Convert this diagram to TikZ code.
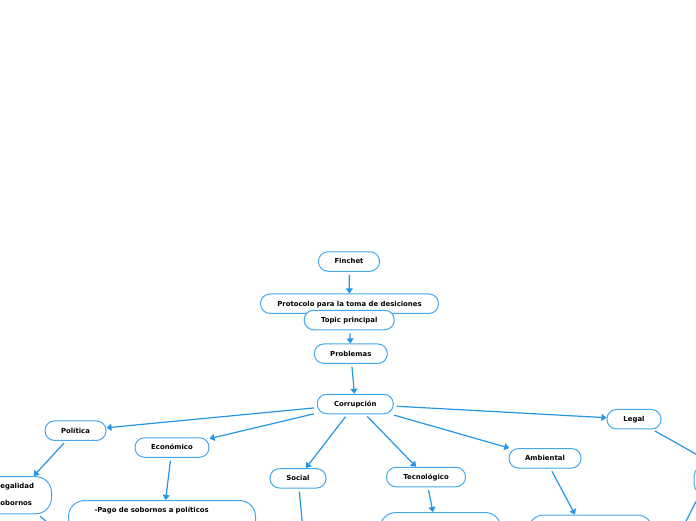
\documentclass[tikz,border=0pt]{standalone}
\usepackage{fontspec}
\setmainfont{DejaVu Sans}
\usetikzlibrary{arrows.meta}
\definecolor{edgeblue}{RGB}{36,150,228}
\definecolor{boxblue}{RGB}{70,168,236}
\tikzset{
  nodefont/.style={font=\fontsize{6.9}{8.3}\selectfont\bfseries},
  topicbox/.style={nodefont, draw=boxblue, line width=1pt, fill=white,
    rounded corners=9.5pt, text height=5pt, text depth=0.3pt,
    inner sep=0pt, minimum height=19.5pt},
  bigbox/.style={nodefont, draw=boxblue, line width=1pt, fill=white,
    rounded corners=16pt, align=left},
  conn/.style={draw=edgeblue, line width=1.2pt,
    -{Triangle[length=5pt,width=7pt]}, shorten <=3pt},
}
\begin{document}
\begin{tikzpicture}[x=1pt,y=-1pt]
\useasboundingbox (0,0) rectangle (696,520);
% main nodes
\node[topicbox, minimum width=61pt] (fin) at (349,261.5) {Finchet};
\node[topicbox, minimum width=178pt] (prot) at (349.5,303.7) {Protocolo para la toma de desiciones};
\node[topicbox, minimum width=90pt] (topic) at (349.2,320) {Topic principal};
\node[topicbox, minimum width=73pt] (prob) at (350.8,353.7) {Problemas};
\node[topicbox, minimum width=76pt] (corr) at (355.3,404) {Corrupción};
\node[topicbox, minimum width=61pt] (pol) at (75.5,430.7) {Política};
\node[topicbox, minimum width=74pt] (eco) at (172,447.5) {Económico};
\node[topicbox, minimum width=56pt] (soc) at (298,478.3) {Social};
\node[topicbox, minimum width=79pt] (tec) at (426,477) {Tecnológico};
\node[topicbox, minimum width=72pt] (amb) at (545,458.3) {Ambiental};
\node[topicbox, minimum width=54pt] (leg) at (634,419.2) {Legal};
% larger boxes
\node[bigbox, anchor=north west, inner xsep=15pt, inner ysep=7.3pt,
  text width=41pt, text height=5pt, text depth=17.7pt] (ilg) at (-20,476)
  {Ilegalidad\\[8.4pt]Sobornos};
\node[bigbox, anchor=north west, inner xsep=26pt, inner ysep=7.3pt,
  text width=135pt, text height=5pt, text depth=39.4pt] (pago) at (68,500)
  {-Pago de sobornos a políticos};
\node[bigbox, minimum width=121pt, minimum height=76pt, inner sep=0pt] (tecc) at (440.5,550.5) {};
\node[bigbox, minimum width=125pt, minimum height=57pt, inner sep=0pt] (ambc) at (590.5,543.5) {};
\node[bigbox, minimum width=96pt, minimum height=36pt, inner sep=0pt] (legc) at (742,480) {};
% free ends
\coordinate (socc) at (306,560);
\coordinate (ilgc) at (64.5,537.5);
\coordinate (legcc) at (676,541);
% connectors
\draw[conn] (fin) -- (prot);
\draw[conn] (topic) -- (prob);
\draw[conn] (prob) -- (corr);
\draw[conn] (corr) -- (pol);
\draw[conn] (corr) -- (eco);
\draw[conn] (corr) -- (soc);
\draw[conn] (corr) -- (tec);
\draw[conn] (corr) -- (amb);
\draw[conn] (corr) -- (leg);
\draw[conn] (pol) -- (ilg);
\draw[conn] (eco) -- (pago);
\draw[conn] (soc) -- (socc);
\draw[conn] (tec) -- (tecc);
\draw[conn] (amb) -- (ambc);
\draw[conn] (leg) -- (legc);
\draw[conn] (ilg) -- (ilgc);
\draw[conn] ([xshift=4pt]legc.south west) -- (legcc);
\end{tikzpicture}
\end{document}
